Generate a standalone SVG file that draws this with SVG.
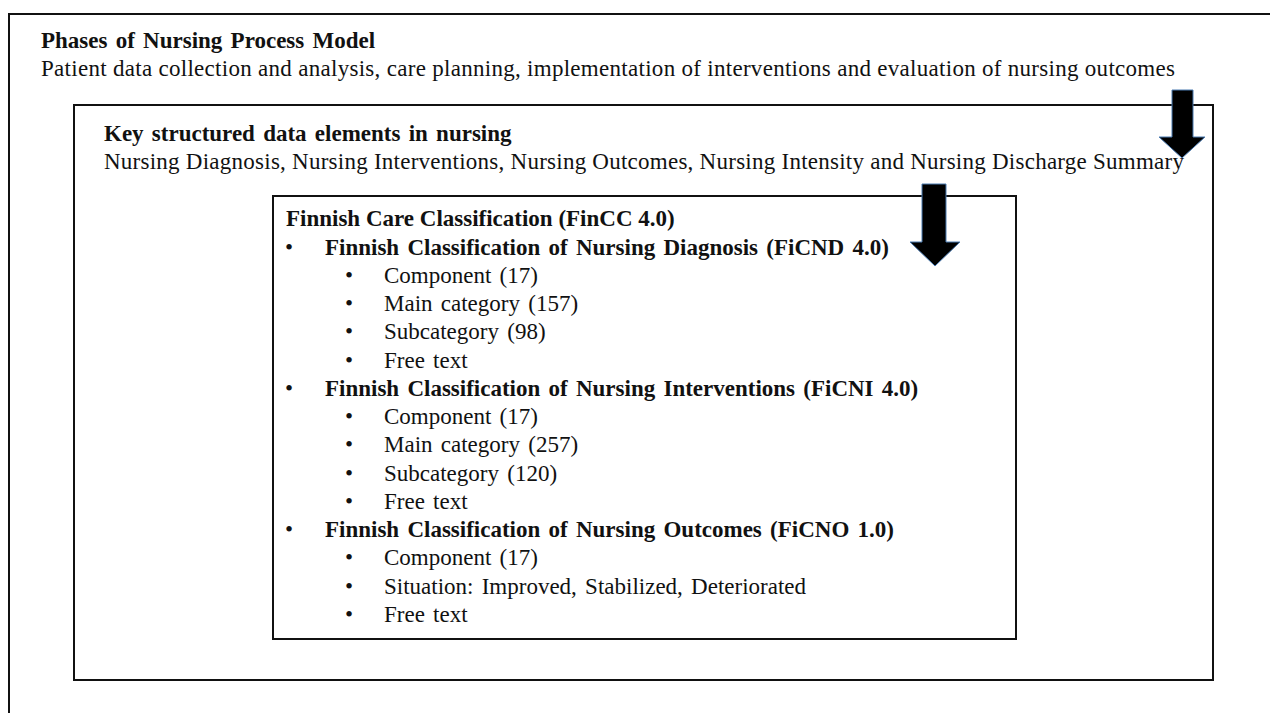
<svg xmlns="http://www.w3.org/2000/svg" width="1270" height="713" viewBox="0 0 1270 713">
<style>
.t{font-family:"Liberation Serif","Times New Roman",serif;font-size:23px;fill:#111;word-spacing:2.5px}
.b{font-weight:bold}
.n{word-spacing:0}
.box{fill:none;stroke:#111;stroke-width:2}
.arr{fill:#000;stroke:#4a7ab0;stroke-width:1}
</style>
<rect width="1270" height="713" fill="#fff"/>
<g id="phases">
<rect class="box" x="9" y="14" width="1300" height="740"/>
<text class="t b" x="41" y="48.3">Phases of Nursing Process Model</text>
<text class="t n" x="41" y="76" textLength="1134" lengthAdjust="spacing">Patient data collection and analysis,  care planning, implementation of interventions and evaluation of nursing outcomes</text>
</g>
<g id="elements">
<rect class="box" x="74" y="105" width="1139" height="575"/>
<text class="t b" x="104" y="141">Key structured data elements in nursing</text>
<text class="t n" x="104" y="169.3" textLength="1080" lengthAdjust="spacing">Nursing Diagnosis, Nursing Interventions, Nursing Outcomes, Nursing Intensity and Nursing Discharge Summary</text>
</g>
<g id="fincc">
<rect class="box" x="273" y="196" width="743" height="443"/>
<text class="t b n" x="286" y="226.2">Finnish Care Classification (FinCC 4.0)</text>
<text class="t" x="285" y="254.5">•</text>
<text class="t b" x="325" y="254.5">Finnish Classification of Nursing Diagnosis (FiCND 4.0)</text>
<text class="t" x="345" y="282.7">•</text>
<text class="t" x="384" y="282.7">Component (17)</text>
<text class="t" x="345" y="311">•</text>
<text class="t" x="384" y="311">Main category (157)</text>
<text class="t" x="345" y="339.2">•</text>
<text class="t" x="384" y="339.2">Subcategory (98)</text>
<text class="t" x="345" y="367.5">•</text>
<text class="t" x="384" y="367.5">Free text</text>
<text class="t" x="285" y="395.7">•</text>
<text class="t b" x="325" y="395.7">Finnish Classification of Nursing Interventions (FiCNI 4.0)</text>
<text class="t" x="345" y="424">•</text>
<text class="t" x="384" y="424">Component (17)</text>
<text class="t" x="345" y="452.2">•</text>
<text class="t" x="384" y="452.2">Main category (257)</text>
<text class="t" x="345" y="480.5">•</text>
<text class="t" x="384" y="480.5">Subcategory (120)</text>
<text class="t" x="345" y="508.7">•</text>
<text class="t" x="384" y="508.7">Free text</text>
<text class="t" x="285" y="537">•</text>
<text class="t b" x="325" y="537">Finnish Classification of Nursing Outcomes (FiCNO 1.0)</text>
<text class="t" x="345" y="565.2">•</text>
<text class="t" x="384" y="565.2">Component (17)</text>
<text class="t" x="345" y="593.5">•</text>
<text class="t" x="384" y="593.5">Situation: Improved, Stabilized, Deteriorated</text>
<text class="t" x="345" y="621.7">•</text>
<text class="t" x="384" y="621.7">Free text</text>
</g>
<g id="connectors">
<path class="arr" d="M1172,90 H1193 V137 H1205 L1182,158 L1159,137 H1172 Z"/>
<path class="arr" d="M922,184 H946 V242 H960 L935,266 L910,242 H922 Z"/>
</g>
</svg>
